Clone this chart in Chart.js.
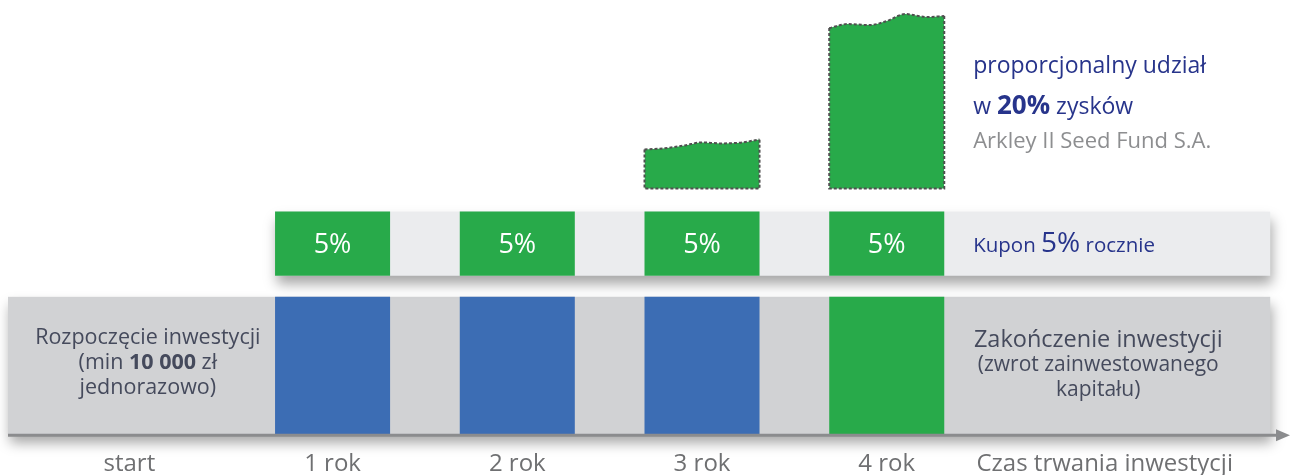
<!DOCTYPE html>
<html>
<head>
<meta charset="utf-8">
<script src="https://cdn.jsdelivr.net/npm/chart.js@4/dist/chart.umd.min.js"></script>
<style>
html, body { margin: 0; padding: 0; background: #fff; }
#wrap { width: 1290px; height: 475px; position: relative; }
</style>
</head>
<body>
<div id="wrap"><canvas id="investment"></canvas></div>
<script>
// Timeline stages (x axis)
const stageLabels = ['start', '1 rok', '2 rok', '3 rok', '4 rok', 'Czas trwania inwestycji'];
const stagePositions = [-0.1, 1, 2, 3, 4, 5.18];

// Yearly blocks
const years = [1, 2, 3, 4];
const couponLabels = ['5%', '5%', '5%', '5%'];
const capitalReturned = [false, false, false, true];

// Profit share: height of the wavy top above its base, left to right
const profitYear3 = [39, 40, 43, 46, 45, 46, 49];
const profitYear4 = [160, 164, 163, 167, 174, 171, 172];
const profitSteps = [0, 0.16, 0.35, 0.5, 0.66, 0.85, 1];

// Layout (axis units)
const X_MIN = -0.757;
const X_MAX = 6.183;
const BAR_W = 0.6227;
const BAND_END = 6.076;
const Y_MAX = 434;
const CAPITAL_BAND = [0, 138];
const COUPON_BAND = [159, 223];
const PROFIT_BASE = 246;

// Colours
const blue = '#3c6db4';
const green = '#28aa4a';
const bandGray = '#d1d2d4';
const bandLight = '#ebecee';
const navy = '#27348b';
const slate = '#454a5c';
const axisGray = '#8b8c8e';
const font = '"Open Sans", sans-serif';

function profitTop(year, heights) {
	return heights.map((h, i) => ({ x: year - BAR_W / 2 + profitSteps[i] * BAR_W, y: PROFIT_BASE + h }));
}
// left side, bottom and right side of a profit block
function profitFrame(year, heights) {
	const left = year - BAR_W / 2;
	const right = year + BAR_W / 2;
	return [
		{ x: left, y: PROFIT_BASE + heights[0] },
		{ x: left, y: PROFIT_BASE },
		{ x: right, y: PROFIT_BASE },
		{ x: right, y: PROFIT_BASE + heights[heights.length - 1] }
	];
}

const dashStyle = {
	type: 'line',
	fill: false,
	borderColor: '#505050',
	borderWidth: 2,
	borderDash: [3, 2],
	pointRadius: 0,
	tension: 0
};
const waveStyle = Object.assign({}, dashStyle, { cubicInterpolationMode: 'monotone' });
const fillStyle = {
	type: 'line',
	fill: { value: PROFIT_BASE },
	backgroundColor: green,
	borderWidth: 0,
	pointRadius: 0,
	cubicInterpolationMode: 'monotone'
};

function drawRuns(ctx, runs, x, y, align) {
	let total = 0;
	runs.forEach(r => {
		ctx.font = r.font;
		r.w = ctx.measureText(r.text).width;
		total += r.w;
	});
	let cx = align === 'center' ? x - total / 2 : x;
	ctx.textAlign = 'left';
	ctx.textBaseline = 'alphabetic';
	runs.forEach(r => {
		ctx.font = r.font;
		ctx.fillStyle = r.color;
		ctx.fillText(r.text, cx, y);
		cx += r.w;
	});
}

const bandsPlugin = {
	id: 'bands',
	beforeDatasetsDraw(chart) {
		const { ctx, scales: { x, y } } = chart;
		ctx.save();
		ctx.shadowColor = 'rgba(0,0,0,0.35)';
		ctx.shadowBlur = 12;
		ctx.shadowOffsetX = 2;
		ctx.shadowOffsetY = 8;
		// capital band
		ctx.fillStyle = bandGray;
		let x0 = x.getPixelForValue(X_MIN), x1 = x.getPixelForValue(BAND_END);
		let y0 = y.getPixelForValue(CAPITAL_BAND[1]), y1 = y.getPixelForValue(CAPITAL_BAND[0]);
		ctx.fillRect(x0, y0, x1 - x0, y1 - y0);
		// coupon band
		ctx.fillStyle = bandLight;
		x0 = x.getPixelForValue(years[0] - BAR_W / 2);
		y0 = y.getPixelForValue(COUPON_BAND[1]);
		y1 = y.getPixelForValue(COUPON_BAND[0]);
		ctx.fillRect(x0, y0, x1 - x0, y1 - y0);
		ctx.restore();
	},
	afterDatasetsDraw(chart) {
		const { ctx, scales: { x, y } } = chart;
		ctx.save();
		// time axis with arrow
		const ay = y.getPixelForValue(0);
		const ax0 = x.getPixelForValue(X_MIN);
		const ax1 = x.getPixelForValue(X_MAX);
		ctx.strokeStyle = axisGray;
		ctx.lineWidth = 3;
		ctx.beginPath();
		ctx.moveTo(ax0, ay);
		ctx.lineTo(ax1 - 10, ay);
		ctx.stroke();
		ctx.fillStyle = axisGray;
		ctx.beginPath();
		ctx.moveTo(ax1 - 14, ay - 6);
		ctx.lineTo(ax1, ay);
		ctx.lineTo(ax1 - 14, ay + 6);
		ctx.closePath();
		ctx.fill();

		// coupon labels
		const couponIndex = chart.data.datasets.findIndex(d => d.label === 'Kupon');
		chart.getDatasetMeta(couponIndex).data.forEach((bar, i) => {
			ctx.font = '27px ' + font;
			ctx.fillStyle = '#ffffff';
			ctx.textAlign = 'center';
			ctx.textBaseline = 'alphabetic';
			ctx.fillText(couponLabels[i], bar.x, y.getPixelForValue(182));
		});

		// start block
		const sx = x.getPixelForValue(0);
		drawRuns(ctx, [{ text: 'Rozpoczęcie inwestycji', font: '21.5px ' + font, color: slate }], sx, y.getPixelForValue(91), 'center');
		drawRuns(ctx, [
			{ text: '(min ', font: '21.5px ' + font, color: slate },
			{ text: '10 000', font: 'bold 21.5px ' + font, color: slate },
			{ text: ' zł', font: '21.5px ' + font, color: slate }
		], sx, y.getPixelForValue(66), 'center');
		drawRuns(ctx, [{ text: 'jednorazowo)', font: '21.5px ' + font, color: slate }], sx, y.getPixelForValue(41), 'center');

		// end block
		const ex = x.getPixelForValue(5.145);
		drawRuns(ctx, [{ text: 'Zakończenie inwestycji', font: '23.5px ' + font, color: slate }], ex, y.getPixelForValue(88), 'center');
		drawRuns(ctx, [{ text: '(zwrot zainwestowanego', font: '21px ' + font, color: slate }], ex, y.getPixelForValue(64), 'center');
		drawRuns(ctx, [{ text: 'kapitału)', font: '21px ' + font, color: slate }], ex, y.getPixelForValue(39), 'center');

		// coupon note
		const nx = x.getPixelForValue(4.468);
		drawRuns(ctx, [
			{ text: 'Kupon ', font: '20.5px ' + font, color: navy },
			{ text: '5%', font: '28px ' + font, color: navy },
			{ text: ' rocznie', font: '20.5px ' + font, color: navy }
		], nx, y.getPixelForValue(183), 'left');

		// profit note
		drawRuns(ctx, [{ text: 'proporcjonalny udział', font: '23px ' + font, color: navy }], nx, y.getPixelForValue(361), 'left');
		drawRuns(ctx, [
			{ text: 'w ', font: '23px ' + font, color: navy },
			{ text: '20%', font: 'bold 26px ' + font, color: navy },
			{ text: ' zysków', font: '23px ' + font, color: navy }
		], nx, y.getPixelForValue(320), 'left');
		drawRuns(ctx, [{ text: 'Arkley II Seed Fund S.A.', font: '22px ' + font, color: '#8d8e90' }], nx, y.getPixelForValue(286), 'left');
		ctx.restore();
	}
};

const investmentChart = new Chart(document.getElementById('investment'), {
	type: 'bar',
	data: {
		datasets: [
			Object.assign({ label: 'Zysk 3 top', data: profitTop(3, profitYear3) }, waveStyle),
			Object.assign({ label: 'Zysk 4 top', data: profitTop(4, profitYear4) }, waveStyle),
			Object.assign({ label: 'Zysk 3 frame', data: profitFrame(3, profitYear3) }, dashStyle),
			Object.assign({ label: 'Zysk 4 frame', data: profitFrame(4, profitYear4) }, dashStyle),
			Object.assign({ label: 'Zysk 3', data: profitTop(3, profitYear3) }, fillStyle),
			Object.assign({ label: 'Zysk 4', data: profitTop(4, profitYear4) }, fillStyle),
			{
				label: 'Kupon',
				data: years.map(yr => ({ x: yr, y: COUPON_BAND })),
				backgroundColor: green,
				grouped: false,
				barPercentage: 1,
				categoryPercentage: BAR_W
			},
			{
				label: 'Kapitał',
				data: years.map(yr => ({ x: yr, y: CAPITAL_BAND })),
				backgroundColor: capitalReturned.map(r => (r ? green : blue)),
				grouped: false,
				barPercentage: 1,
				categoryPercentage: BAR_W
			}
		]
	},
	options: {
		responsive: true,
		maintainAspectRatio: false,
		animation: false,
		// the x axis box is symmetric round its labels, so let it hang past the bottom edge
		layout: { padding: { left: 8, right: 0, top: 0, bottom: -19 } },
		plugins: { legend: { display: false }, tooltip: { enabled: false } },
		scales: {
			x: {
				type: 'linear',
				min: X_MIN,
				max: X_MAX,
				offset: false,
				afterBuildTicks: scale => {
					scale.ticks = stagePositions.map(v => ({ value: v }));
				},
				ticks: {
					autoSkip: false,
					maxRotation: 0,
					padding: 15,
					color: '#6f7072',
					font: { family: 'Open Sans', size: 24 },
					callback: (value, index) => stageLabels[index]
				},
				grid: { display: false, drawTicks: false, offset: false },
				border: { display: false }
			},
			y: {
				display: false,
				min: 0,
				max: Y_MAX
			}
		}
	},
	plugins: [bandsPlugin]
});
</script>
</body>
</html>
